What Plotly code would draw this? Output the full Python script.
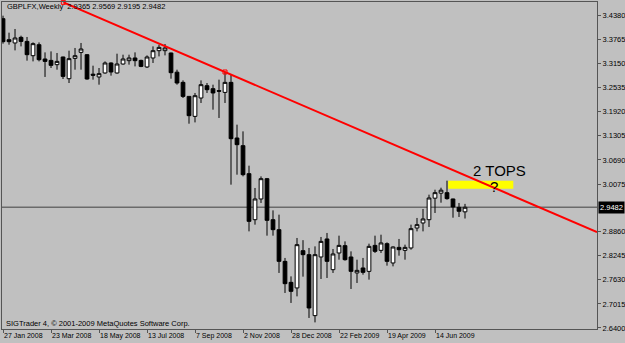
import pandas as pd
import plotly.graph_objects as go

# ---- data (weekly candles) ----
start_date = "2008-01-27"
opens = [3.4297, 3.3761, 3.3677, 3.3820, 3.3717, 3.3352, 3.3633, 3.3268, 3.3232, 3.3123,
         3.3319, 3.2765, 3.3283, 3.3437, 3.3378, 3.2880, 3.2809, 3.2911, 3.3166, 3.2911,
         3.3140, 3.3225, 3.3294, 3.3232, 3.3064, 3.3294, 3.3480, 3.3480, 3.3421, 3.2931,
         3.2671, 3.2313, 3.1803, 3.2272, 3.2586, 3.2510, 3.2459, 3.2415, 3.2671, 3.1251,
         3.1055, 3.0340, 2.9165, 2.9694, 3.0212, 2.9165, 2.8910, 2.8101, 2.7565, 2.7422,
         2.8374, 2.8272, 2.6715, 2.8213, 2.8673, 2.7889, 2.8315, 2.8502, 2.8213, 2.7805,
         2.7932, 2.7846, 2.8509, 2.8382, 2.8553, 2.8060, 2.8458, 2.8382, 2.8443, 2.8953,
         2.9081, 2.9165, 2.9714, 2.9842, 2.9855, 2.9694, 2.9479, 2.9365]
highs = [3.4374, 3.3940, 3.4034, 3.3863, 3.3830, 3.3692, 3.3692, 3.3437, 3.3462, 3.3421,
         3.3327, 3.3480, 3.3549, 3.3677, 3.3391, 3.3097, 3.3038, 3.3207, 3.3181, 3.3403,
         3.3378, 3.3378, 3.3437, 3.3250, 3.3360, 3.3590, 3.3633, 3.3651, 3.3429, 3.2995,
         3.2722, 3.2313, 3.2400, 3.2722, 3.2655, 3.2612, 3.2740, 3.2936, 3.2867, 3.1591,
         3.1420, 3.0544, 2.9975, 3.0271, 3.0230, 2.9403, 2.9293, 2.8188, 2.7718, 2.8698,
         2.8642, 2.8443, 2.8484, 2.8724, 2.8826, 2.8417, 2.8757, 2.8611, 2.8356, 2.8144,
         2.8188, 2.8553, 2.8757, 2.8782, 2.8586, 2.8484, 2.8673, 2.8527, 2.9038, 2.9209,
         2.9439, 2.9804, 2.9931, 2.9982, 3.0161, 2.9702, 2.9592, 2.9569]
lows = [3.3659, 3.3633, 3.3488, 3.3590, 3.3225, 3.3207, 3.3207, 3.2809, 3.3038, 3.2995,
        3.2757, 3.2655, 3.2995, 3.2995, 3.2740, 3.2740, 3.2612, 3.2893, 3.2842, 3.2893,
        3.3123, 3.3123, 3.3079, 3.3059, 3.3038, 3.3166, 3.3334, 3.3360, 3.2765, 3.2612,
        3.2272, 3.1616, 3.1649, 3.2145, 3.2400, 3.1974, 3.1762, 3.2145, 3.0059, 3.0314,
        3.0271, 2.8867, 2.9038, 2.9592, 2.8757, 2.8757, 2.7805, 2.7294, 2.7039, 2.7207,
        2.7710, 2.6656, 2.6543, 2.7651, 2.7677, 2.7805, 2.8144, 2.8119, 2.7396, 2.7549,
        2.7761, 2.7634, 2.8315, 2.8315, 2.7991, 2.7973, 2.8246, 2.8144, 2.8399, 2.8867,
        2.8867, 2.8979, 2.9336, 2.9599, 2.9676, 2.9216, 2.9234, 2.9195]
closes = [3.3710, 3.3710, 3.3804, 3.3717, 3.3378, 3.3659, 3.3250, 3.3207, 3.3105, 3.3207,
          3.2824, 3.3276, 3.3352, 3.3523, 3.2757, 3.2854, 3.2893, 3.3166, 3.2936, 3.3140,
          3.3268, 3.3294, 3.3225, 3.3079, 3.3319, 3.3480, 3.3564, 3.3549, 3.2918, 3.2655,
          3.2313, 3.1821, 3.2331, 3.2612, 3.2484, 3.2400, 3.2446, 3.2671, 3.1233, 3.1080,
          3.0314, 2.9122, 2.9694, 3.0212, 2.9148, 2.8910, 2.8101, 2.7531, 2.7335, 2.8527,
          2.8272, 2.6911, 2.8272, 2.8611, 2.8101, 2.8290, 2.8509, 2.8144, 2.7846, 2.7871,
          2.7820, 2.8484, 2.8356, 2.8571, 2.8101, 2.8468, 2.8399, 2.8458, 2.8936, 2.9038,
          2.9183, 2.9719, 2.9855, 2.9918, 2.9702, 2.9490, 2.9380, 2.9482]

y_ticks = [3.4380, 3.3765, 3.3150, 3.2535, 3.1920, 3.1305, 3.0690, 3.0075,
           2.8860, 2.8245, 2.7630, 2.7015, 2.6400]
y_range = [2.6374, 3.4723]
x_tick_every = 8            # bars between date labels
x_range_bars = [-0.17, 99.0]
current_price = 2.9482
# trend line anchors (bar index, price) and the box / notes
trend_a = (10.05, 3.4713)
trend_b = (37.0, 3.2936)
box_bars = (74.2, 85.05)
box_prices = (2.9956, 3.0161)
note_tops = (82.8, 3.0430, "2 TOPS")
note_q = (81.9, 3.0010, "?")
header = "GBPLFX,Weekly  2.9365 2.9569 2.9195 2.9482"
footer = "SIGTrader 4, \u00a9 2001-2009 MetaQuotes Software Corp."

dates = pd.date_range(start_date, periods=len(opens), freq="7D")
t0 = pd.Timestamp(start_date)


def bar_date(k):
    return t0 + pd.Timedelta(days=7 * k)


BG = "#c0c0c0"
FRAME = "#555555"
FONT = "Liberation Sans, Arial, sans-serif"

fig = go.Figure()
fig.add_trace(go.Candlestick(
    x=dates, open=opens, high=highs, low=lows, close=closes,
    increasing=dict(fillcolor="white", line=dict(color="black", width=1)),
    decreasing=dict(fillcolor="black", line=dict(color="black", width=1)),
    whiskerwidth=0, showlegend=False, hoverinfo="skip",
))

# trend line extended to the right edge
slope = (trend_b[1] - trend_a[1]) / (trend_b[0] - trend_a[0])
end_k = x_range_bars[1]
end_p = trend_a[1] + slope * (end_k - trend_a[0])

shapes = [
    dict(type="line", xref="paper", x0=0, x1=1, yref="y", y0=current_price, y1=current_price,
         line=dict(color="#6a6a6a", width=1.5), layer="below"),
    dict(type="rect", xref="x", yref="y", x0=bar_date(box_bars[0]), x1=bar_date(box_bars[1]),
         y0=box_prices[0], y1=box_prices[1], fillcolor="#ffff00", line=dict(width=0), layer="above"),
    dict(type="line", xref="x", yref="y", x0=bar_date(trend_a[0]), y0=trend_a[1],
         x1=bar_date(end_k), y1=end_p, line=dict(color="#ff0000", width=2), layer="above"),
]

fig.add_trace(go.Scatter(
    x=[bar_date(trend_a[0]), bar_date(trend_b[0])], y=[trend_a[1], trend_b[1]],
    mode="markers", marker=dict(symbol="square-open", size=4, color="#ff0000", line=dict(width=1)),
    showlegend=False, hoverinfo="skip", cliponaxis=False,
))

annotations = [
    dict(text=header, xref="paper", yref="paper", x=0.005, y=0.985, xanchor="left", yanchor="middle",
         showarrow=False, font=dict(size=7.5, color="black", family=FONT)),
    dict(text=footer, xref="paper", yref="paper", x=0.004, y=0.016, xanchor="left", yanchor="middle",
         showarrow=False, font=dict(size=7.5, color="black", family=FONT)),
    dict(text=note_tops[2], xref="x", yref="y", x=bar_date(note_tops[0]), y=note_tops[1],
         showarrow=False, font=dict(size=15, color="black", family=FONT), borderpad=0),
    dict(text=note_q[2], xref="x", yref="y", x=bar_date(note_q[0]), y=note_q[1],
         showarrow=False, font=dict(size=15, color="black", family=FONT), borderpad=0),
    dict(text=f"{current_price:.4f}", xref="paper", yref="y", x=1, y=current_price,
         xanchor="left", yanchor="middle", xshift=1, showarrow=False,
         bgcolor="black", font=dict(size=7.5, color="white", family=FONT), borderpad=1),
]

fig.update_layout(
    width=625, height=343,
    margin=dict(l=2, r=28, t=2, b=14),
    paper_bgcolor=BG, plot_bgcolor=BG,
    shapes=shapes, annotations=annotations,
    boxgap=0.38, boxgroupgap=0,
    showlegend=False,
    xaxis=dict(
        type="date", automargin=False,
        range=[bar_date(x_range_bars[0]), bar_date(x_range_bars[1])],
        rangeslider=dict(visible=False),
        tickvals=list(dates[::x_tick_every]),
        tickformat="%-d %b %Y", tickangle=0,
        ticks="outside", ticklen=3, tickcolor=FRAME, tickwidth=1,
        ticklabelposition="outside right",
        tickfont=dict(size=7, color="black", family=FONT),
        showgrid=False, zeroline=False,
        showline=True, linecolor=FRAME, linewidth=1, mirror=True,
    ),
    yaxis=dict(
        side="right", range=y_range, automargin=False,
        tickvals=y_ticks, ticktext=[f"{v:.4f}" for v in y_ticks],
        ticks="outside", ticklen=3, tickcolor=FRAME, tickwidth=1,
        tickfont=dict(size=7.5, color="black", family=FONT),
        showgrid=False, zeroline=False,
        showline=True, linecolor=FRAME, linewidth=1, mirror=True,
    ),
)

fig.write_html("out.html")
